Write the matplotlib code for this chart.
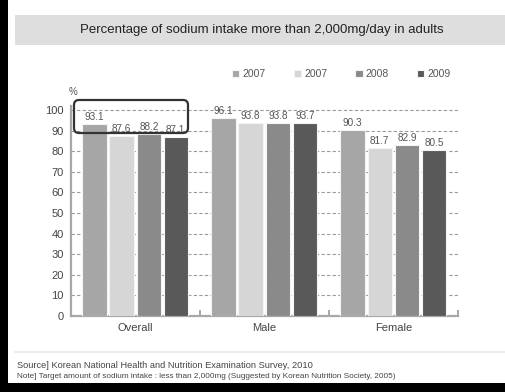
import matplotlib
matplotlib.use("Agg")
import matplotlib.pyplot as plt
from matplotlib import font_manager
from matplotlib.patches import Rectangle, FancyBboxPatch
from matplotlib.lines import Line2D
from matplotlib.transforms import IdentityTransform
import numpy as np

# ---- data ----
groups = ["Overall", "Male", "Female"]
series_labels = ["2007", "2007", "2008", "2009"]
values = [
    [93.1, 96.1, 90.3],
    [87.6, 93.8, 81.7],
    [88.2, 93.8, 82.9],
    [87.1, 93.7, 80.5],
]
yticks = [0, 10, 20, 30, 40, 50, 60, 70, 80, 90, 100]

title = "Percentage of sodium intake more than 2,000mg/day in adults"
source_note = "Source] Korean National Health and Nutrition Examination Survey, 2010"
target_note = "Note] Target amount of sodium intake : less than 2,000mg (Suggested by Korean Nutrition Society, 2005)"

colors = ["#a6a6a6", "#d6d6d6", "#8a8a8a", "#595959"]

# ---- fonts ----
available = {f.name for f in font_manager.fontManager.ttflist}
narrow = "Liberation Sans Narrow" if "Liberation Sans Narrow" in available else "Liberation Sans"
plt.rcParams["font.family"] = ["Liberation Sans", "DejaVu Sans"]

W, H = 506, 392
fig = plt.figure(figsize=(W / 100, H / 100), dpi=100, facecolor="black")

# white page area
fig.patches.append(Rectangle((8 / W, 9 / H), 1 - 8 / W, 1 - 9 / H,
                             transform=fig.transFigure, facecolor="white",
                             edgecolor="none", zorder=-3))
# title band
fig.patches.append(Rectangle((15 / W, (H - 45) / H), 1 - 15 / W, 30 / H,
                             transform=fig.transFigure, facecolor="#dedede",
                             edgecolor="none", zorder=-2))
fig.text(262 / W, (H - 30) / H, title, ha="center", va="center",
         fontsize=9.5, color="#222222", zorder=2)

# separator above the notes
fig.add_artist(Line2D([15 / W, 1], [(H - 352) / H] * 2, transform=fig.transFigure,
                      color="#e6e6e6", lw=1.2, zorder=-1))
fig.text(17 / W, (H - 365) / H, source_note, ha="left", va="center",
         fontsize=6.7, color="#444444", family=[narrow, "DejaVu Sans"])
fig.text(17 / W, (H - 377) / H, target_note, ha="left", va="center",
         fontsize=5.9, color="#444444", family=[narrow, "DejaVu Sans"])

# ---- axes ----
left, right = 70.7, 458
bottom_px, top_px = 316, 106
ax = fig.add_axes([left / W, (H - bottom_px) / H, (right - left) / W,
                   (bottom_px - top_px) / H], zorder=1)
ax.set_facecolor("none")
ax.set_xlim(-0.5, 2.5)
ax.set_ylim(0, 102)

x = np.arange(len(groups))
offsets = [-0.316, -0.106, 0.106, 0.314]
width = 0.19
bars = []
for vals, off, col, lab in zip(values, offsets, colors, series_labels):
    b = ax.bar(x + off, vals, width, color=col, edgecolor="#f4f4f4",
               linewidth=0.8, label=lab, zorder=3)
    bars.append(b)
    for xi, v in zip(x + off, vals):
        ax.text(xi, v + 3.4, f"{v:.1f}", ha="center", va="center",
                fontsize=7.2, color="#555555", family=[narrow, "DejaVu Sans"],
                zorder=4)

ax.set_yticks(yticks)
ax.set_yticklabels([str(t) for t in yticks], family=[narrow, "DejaVu Sans"],
                   fontsize=8, color="#444444")
ax.yaxis.grid(True, color="#9a9a9a", linestyle=(0, (3, 2)), lw=0.8, zorder=0)
ax.set_axisbelow(True)
ax.tick_params(axis="y", length=0, pad=5)

ax.set_xticks(x)
ax.set_xticklabels(groups, family=[narrow, "DejaVu Sans"], fontsize=8,
                   color="#444444")
ax.tick_params(axis="x", which="major", length=0, pad=5)
ax.set_xticks([0.5, 1.5, 2.5], minor=True)
ax.tick_params(axis="x", which="minor", direction="in", length=4,
               width=1.2, color="#9a9a9a")

for s in ["top", "right"]:
    ax.spines[s].set_visible(False)
for s in ["left", "bottom"]:
    ax.spines[s].set_color("#a8a8a8")
    ax.spines[s].set_linewidth(1.6)

ax.text(-0.48, 109, "%", ha="center", va="center", fontsize=7,
        color="#555555", family=[narrow, "DejaVu Sans"], clip_on=False)

# legend
leg = fig.legend(handles=[b[0] for b in bars], labels=series_labels, ncol=4,
                 loc="center left", bbox_to_anchor=(232 / W, (H - 74) / H),
                 frameon=False, handlelength=0.7, handleheight=0.7,
                 handletextpad=0.3, columnspacing=2.7, borderpad=0,
                 borderaxespad=0,
                 prop=font_manager.FontProperties(family=[narrow, "DejaVu Sans"],
                                                  size=7.5))
for t in leg.get_texts():
    t.set_color("#555555")

# highlight around the Overall group (pixel coordinates)
x0, y0, x1, y1 = 74, H - 133, 188, H - 100
fig.patches.append(FancyBboxPatch((x0, y0), x1 - x0, y1 - y0,
                                  boxstyle="round,pad=0,rounding_size=5",
                                  transform=IdentityTransform(),
                                  facecolor="none", edgecolor="#333333",
                                  linewidth=1.6, zorder=6))

fig.savefig("out.png", dpi=100, facecolor="black")
